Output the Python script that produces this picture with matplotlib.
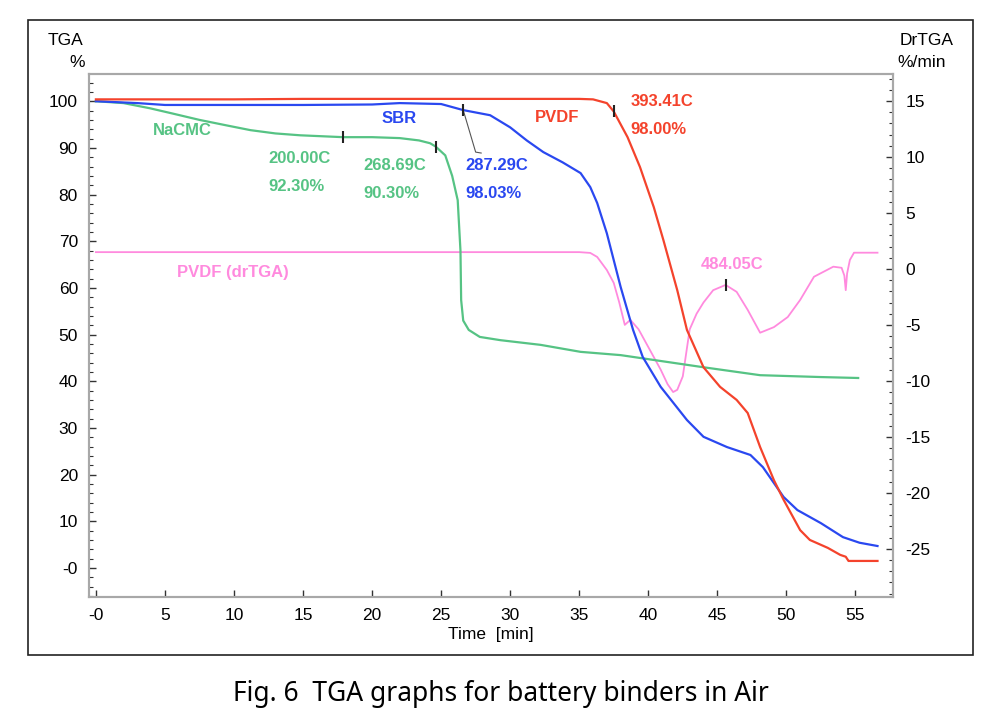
import matplotlib.pyplot as plt
import matplotlib.patches as patches
import numpy as np

plt.rcParams['font.family'] = ['Liberation Sans', 'DejaVu Sans']
plt.rcParams['axes.unicode_minus'] = False

# TGA curves: time [min], weight [%]
pvdf_t = [0, 5, 10, 15, 20, 25, 30, 35, 36.0, 37.0, 37.5, 38.5, 39.4, 40.4, 41.1,
          42.1, 42.8, 44.0, 45.2, 46.4, 47.2, 48.1, 49.1, 49.8, 51.0, 51.7, 53.0,
          53.9, 54.3, 54.5, 55.5, 56.6]
pvdf_w = [100.4, 100.4, 100.4, 100.5, 100.5, 100.5, 100.5, 100.5, 100.4, 99.6, 97.8,
          92.3, 85.9, 77.3, 70.2, 59.5, 51.0, 43.0, 38.8, 36.0, 33.2, 25.9, 18.8,
          14.6, 8.1, 6.0, 4.3, 2.8, 2.4, 1.5, 1.5, 1.5]

sbr_t = [0, 3, 5, 10, 15, 20, 22, 25, 26.6, 28.55, 30.0, 31.2, 32.4, 33.8, 35.1,
         35.8, 36.3, 37.0, 38.0, 38.9, 39.6, 40.9, 42.8, 44.0, 45.7, 47.4, 48.3,
         49.8, 50.8, 52.5, 54.1, 55.3, 56.6]
sbr_w = [100.0, 99.6, 99.2, 99.2, 99.2, 99.3, 99.6, 99.4, 98.1, 97.0, 94.4, 91.6,
         89.1, 86.9, 84.6, 81.6, 78.2, 71.7, 60.2, 51.0, 45.2, 38.8, 31.7, 28.1,
         25.9, 24.2, 21.6, 15.2, 12.4, 9.6, 6.6, 5.4, 4.7]

nacmc_t = [0, 2, 3.9, 5.5, 7.5, 9.5, 11.2, 13, 14.8, 17.9, 20, 22, 23.4, 24.2,
           24.6, 25.3, 25.8, 26.2, 26.4, 26.45, 26.6, 27.0, 27.8, 29.3, 32.2, 35.1,
           38.0, 44.0, 48.1, 52.5, 55.2]
nacmc_w = [100.0, 99.6, 98.5, 97.4, 96.0, 94.8, 93.8, 93.1, 92.7, 92.3, 92.3, 92.1,
           91.6, 91.0, 90.3, 88.4, 84.0, 78.8, 68.0, 57.4, 53.0, 51.0, 49.5, 48.8,
           47.8, 46.3, 45.6, 43.0, 41.3, 40.9, 40.7]

# derivative of PVDF weight [%/min]
drtga_t = [0, 5, 10, 15, 20, 25, 30, 35.0, 35.8, 36.3, 37.0, 37.5, 37.9, 38.3,
           38.7, 39.3, 40.1, 40.9, 41.4, 41.8, 42.1, 42.5, 43.0, 43.5, 44.0, 44.7,
           45.6, 46.4, 47.2, 48.1, 49.1, 50.1, 51.0, 52.0, 53.4, 54.0, 54.2, 54.3,
           54.4, 54.6, 54.9, 56.6]
drtga_v = [1.5, 1.5, 1.5, 1.5, 1.5, 1.5, 1.5, 1.5, 1.43, 1.07, -0.1, -1.25, -3.0,
           -5.0, -4.55, -5.4, -7.2, -9.0, -10.3, -11.0, -10.8, -9.6, -5.4, -4.0,
           -3.0, -1.9, -1.43, -2.05, -3.66, -5.7, -5.2, -4.3, -2.77, -0.7, 0.2, 0.1,
           -0.6, -1.9, -0.4, 0.8, 1.45, 1.45]

x_ticks = [0, 5, 10, 15, 20, 25, 30, 35, 40, 45, 50, 55]
left_ticks = [0, 10, 20, 30, 40, 50, 60, 70, 80, 90, 100]
right_ticks = [-25, -20, -15, -10, -5, 0, 5, 10, 15]

red = '#f4432c'
blue = '#2a48f0'
green = '#56c384'
pink = '#ff8ade'

fig = plt.figure(figsize=(9.91, 7.2), dpi=100)
ax = fig.add_axes([0.0898, 0.171, 0.811, 0.726])
ax2 = ax.twinx()

ax2.plot(drtga_t, drtga_v, color=pink, lw=1.3)
ax.plot(nacmc_t, nacmc_w, color=green, lw=1.6)
ax.plot(sbr_t, sbr_w, color=blue, lw=1.6)
ax.plot(pvdf_t, pvdf_w, color=red, lw=1.6)
ax.set_zorder(ax2.get_zorder() + 1)
ax.patch.set_visible(False)

ax.set_xlim(-0.5, 57.7)
ax.set_ylim(-6.2, 105.8)
ax2.set_ylim(-29.3, 17.4)

ax.set_xticks(x_ticks)
ax.set_xticklabels(['-0' if v == 0 else str(v) for v in x_ticks])
ax.set_yticks(left_ticks)
ax.set_yticklabels(['-0' if v == 0 else str(v) for v in left_ticks])
ax.set_yticks(np.arange(-6, 106, 2), minor=True)
ax2.set_yticks(right_ticks)
ax2.set_yticklabels([str(v) for v in right_ticks])
ax2.set_yticks(np.arange(-29, 18, 1), minor=True)

for a in (ax, ax2):
    for s in a.spines.values():
        s.set_color('#a8a8a8')
        s.set_linewidth(1.5)
ax.tick_params(axis='both', which='major', direction='in', length=5, width=1,
               color='#333333', labelsize=12.5, pad=8)
ax.tick_params(axis='y', which='minor', direction='in', length=3, width=0.8,
               color='#333333')
ax2.tick_params(axis='y', which='major', direction='in', length=5, width=1,
                color='#333333', labelsize=12.5, pad=9)
ax2.tick_params(axis='y', which='minor', direction='in', length=3, width=0.8,
                color='#333333')

ax.set_xlabel('Time  [min]', fontsize=12.5, labelpad=3)
fig.text(0.066, 0.944, 'TGA', fontsize=12.5, ha='center', va='center')
fig.text(0.078, 0.913, '%', fontsize=12.5, ha='center', va='center')
fig.text(0.935, 0.944, 'DrTGA', fontsize=12.5, ha='center', va='center')
fig.text(0.930, 0.913, '%/min', fontsize=12.5, ha='center', va='center')

# analysis marks on the curves
ax.plot([17.9, 24.6, 26.6, 37.5], [92.3, 90.3, 98.1, 97.8], ls='none',
        marker='|', ms=8, mew=1.5, color='#222222', zorder=5)
ax2.plot([45.6], [-1.43], ls='none', marker='|', ms=8, mew=1.5,
         color='#222222', zorder=5)
ax.plot([26.6, 27.5, 27.9], [98.1, 89.1, 88.9], color='#555555', lw=0.8)

lab = dict(fontsize=12, fontweight='bold', va='center', ha='left')
ax.text(4.13, 93.8, 'NaCMC', color=green, **lab)
ax.text(12.46, 87.8, '200.00C', color=green, **lab)
ax.text(12.46, 81.8, '92.30%', color=green, **lab)
ax.text(19.35, 86.3, '268.69C', color=green, **lab)
ax.text(19.35, 80.3, '90.30%', color=green, **lab)
ax.text(20.7, 96.4, 'SBR', color=blue, **lab)
ax.text(26.75, 86.3, '287.29C', color=blue, **lab)
ax.text(26.75, 80.3, '98.03%', color=blue, **lab)
ax.text(31.8, 96.6, 'PVDF', color=red, **lab)
ax.text(38.7, 100.0, '393.41C', color=red, **lab)
ax.text(38.7, 94.0, '98.00%', color=red, **lab)
ax.text(5.9, 63.4, 'PVDF (drTGA)', color=pink, **lab)
ax.text(43.8, 65.1, '484.05C', color=pink, **lab)

fig.patches.append(patches.Rectangle((0.0283, 0.0903), 0.9537, 0.8817,
                                     transform=fig.transFigure, fill=False,
                                     edgecolor='#222222', lw=1.2))
fig.text(0.505, 0.036, 'Fig. 6  TGA graphs for battery binders in Air',
         fontsize=19, ha='center', va='center', family=['Noto Sans', 'DejaVu Sans'])

fig.savefig('out.png', dpi=100)
